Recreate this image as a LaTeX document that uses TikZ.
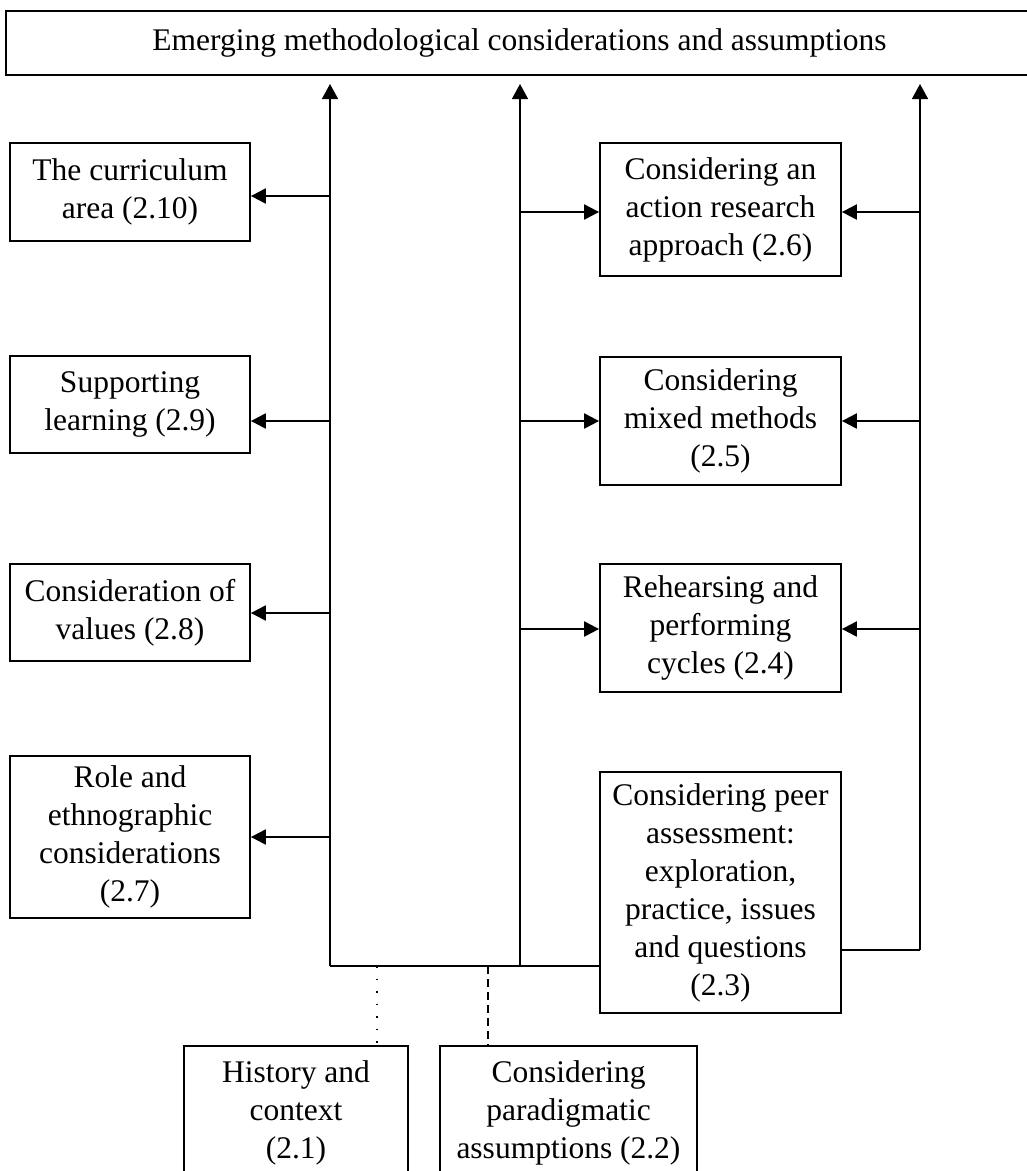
\documentclass[tikz,border=0pt]{standalone}
\usepackage{fontspec}
\setmainfont{Liberation Serif}
\usetikzlibrary{arrows.meta}
\begin{document}
\begin{tikzpicture}[x=1pt,y=-1pt,
  font=\fontsize{31.5}{38}\selectfont,
  box/.style={draw, line width=1.8pt, inner sep=0pt, align=center},
  trunk/.style={line width=1.6pt},
  arr/.style={line width=2.2pt, -{Triangle[length=15pt,width=15pt]}},
  uparr/.style={line width=1.6pt, -{Triangle[length=15pt,width=16pt]}}]
\useasboundingbox (0,0) rectangle (1027,1171);

% boxes: (x1,y1) to (x2,y2)
\newcommand{\mybox}[6]{%
  \node[box, minimum width=#4-#2, minimum height=#5-#3] (#1) at ({(#2+#4)/2},{(#3+#5)/2}) {#6};}

\mybox{top}{6}{11}{1033}{75}{Emerging methodological considerations and assumptions}
\mybox{cur}{10}{143}{250}{241}{The curriculum\\area (2.10)}
\mybox{sup}{10}{356}{250}{453}{Supporting\\learning (2.9)}
\mybox{val}{10}{564}{250}{661}{Consideration of\\values (2.8)}
\mybox{rol}{10}{756}{250}{918}{Role and\\ethnographic\\considerations\\(2.7)}
\mybox{act}{600}{143}{841}{276}{Considering an\\action research\\approach (2.6)}
\mybox{mix}{600}{357}{841}{485}{Considering\\mixed methods\\(2.5)}
\mybox{reh}{600}{564}{841}{692}{Rehearsing and\\performing\\cycles (2.4)}
\mybox{peer}{600}{772}{841}{1013}{Considering peer\\assessment:\\exploration,\\practice, issues\\and questions\\(2.3)}
\mybox{his}{184}{1046}{408}{1180}{History and\\context\\(2.1)}
\mybox{par}{440}{1046}{697}{1180}{Considering\\paradigmatic\\assumptions (2.2)}

% trunk junctions
\coordinate (Lb) at (330,966);
\coordinate (Mb) at (520,966);
\coordinate (Rb) at (920,950);
\coordinate (Lt) at (330,84);
\coordinate (Mt) at (520,84);
\coordinate (Rt) at (920,84);

% trunks rising to the top box
\draw[trunk] (peer.west |- Lb) -- (Lb);
\draw[uparr] (Lb) -- (Lt);
\draw[uparr] (Mb) -- (Mt);
\draw[trunk] (peer.east |- Rb) -- (Rb);
\draw[uparr] (Rb) -- (Rt);

% branches to the left column
\foreach \n/\y in {cur/196, sup/421, val/613, rol/837}
  \draw[arr] (330,\y) coordinate (b\n) -- (b\n -| \n.east);

% branches to the right column from both trunks
\foreach \n/\y in {act/212, mix/421, reh/629} {
  \draw[arr] (520,\y) coordinate (m\n) -- (m\n -| \n.west);
  \draw[arr] (920,\y) coordinate (r\n) -- (r\n -| \n.east);
}

% links to the two foundation boxes
\coordinate (Dh) at (377,966);
\coordinate (Dp) at (488,966);
\draw[line width=1.2pt, dash pattern=on 1.5pt off 11pt] (Dh) -- (Dh |- his.north);
\draw[line width=2pt, dash pattern=on 8pt off 5pt] (Dp) -- (Dp |- par.north);
\end{tikzpicture}
\end{document}
